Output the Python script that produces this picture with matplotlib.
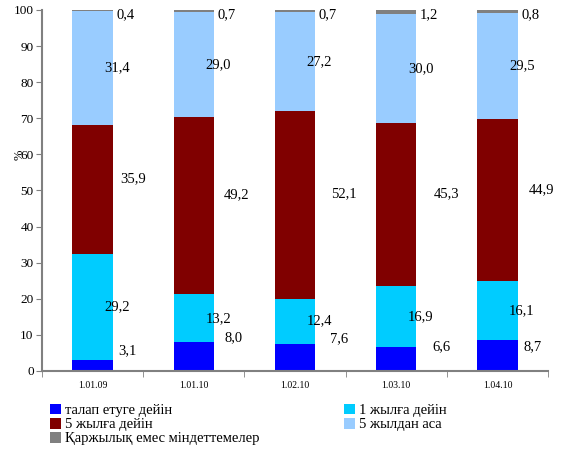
import numpy as np
import matplotlib
matplotlib.use("Agg")
import matplotlib.pyplot as plt
from matplotlib.patches import Patch

plt.rcParams['font.family'] = ['Liberation Serif', 'DejaVu Serif']

dates = ["1.01.09", "1.01.10", "1.02.10", "1.03.10", "1.04.10"]
series_names = ["талап етуге дейін", "1 жылға дейін", "5 жылға дейін",
                "5 жылдан аса", "Қаржылық емес міндеттемелер"]
on_demand = [3.1, 8.0, 7.6, 6.6, 8.7]
up_to_1y = [29.2, 13.2, 12.4, 16.9, 16.1]
up_to_5y = [35.9, 49.2, 52.1, 45.3, 44.9]
over_5y = [31.4, 29.0, 27.2, 30.0, 29.5]
non_fin = [0.4, 0.7, 0.7, 1.2, 0.8]

colors = ["#0000FF", "#00CCFF", "#800000", "#99CCFF", "#808080"]

# label placement tweaks (x offset from bar centre, y offset from segment middle)
blue_dx = [0.25, 0.30, 0.35, 0.36, 0.26]
blue_dy = [4.0, 5.1, 5.1, 3.4, 2.3]
maroon_dx = [0.27, 0.30, 0.36, 0.37, 0.31]

fig = plt.figure(figsize=(5.65, 4.5), dpi=100)
ax = fig.add_axes([0.0743, 0.1756, 0.8957, 0.8024])

x = np.arange(len(dates))
data = [on_demand, up_to_1y, up_to_5y, over_5y, non_fin]
bottom = np.zeros(len(dates))
for vals, c in zip(data, colors):
    ax.bar(x, vals, width=0.4, bottom=bottom, color=c, linewidth=0)
    bottom += np.array(vals)

fs = 10.5
def fmt(v):
    return f"{v:.1f}".replace(".", ",")

base = np.zeros(len(dates))
for k, vals in enumerate(data):
    for i, v in enumerate(vals):
        mid = base[i] + v / 2
        if k == 0:
            ax.text(i + blue_dx[i], mid + blue_dy[i], fmt(v), ha='left', va='center', fontsize=fs)
        elif k == 1 or k == 3:
            ax.text(i + 0.24, mid, fmt(v), ha='center', va='center', fontsize=fs)
        elif k == 2:
            ax.text(i + maroon_dx[i], mid + 3, fmt(v), ha='left', va='center', fontsize=fs)
        else:
            ax.text(i + 0.235, 98.8, fmt(v), ha='left', va='center', fontsize=fs)
    base += np.array(vals)

ax.set_xlim(-0.5, len(dates) - 0.5)
ax.set_ylim(0, 100)
ax.set_yticks(range(0, 101, 10))
ax.set_xticks(x)
ax.set_xticklabels(dates, fontsize=7)
ax.set_xticks(np.arange(-0.5, len(dates), 1), minor=True)
ax.tick_params(axis='x', which='major', length=0, pad=7)
ax.tick_params(axis='x', which='minor', length=4, color='#808080', direction='out')
ax.tick_params(axis='y', length=4, color='#808080', labelsize=9.5, pad=2)

for s in ['top', 'right']:
    ax.spines[s].set_visible(False)
for s in ['left', 'bottom']:
    ax.spines[s].set_color('#808080')
    ax.spines[s].set_linewidth(1.5)

ax.text(-0.045, 0.6, "%", transform=ax.transAxes, rotation=90,
        ha='center', va='center', fontsize=9)

order = [0, 2, 4, 1, 3]
handles = [Patch(facecolor=colors[j], edgecolor='none') for j in order]
labels = [series_names[j] for j in order]
fig.legend(handles, labels, ncol=2, loc='upper left', bbox_to_anchor=(0.089, 0.102),
           frameon=False, fontsize=10.5, handlelength=0.72, handleheight=0.72,
           handletextpad=0.3, columnspacing=5.8, labelspacing=0.05, borderaxespad=0,
           borderpad=0)

fig.savefig("out.png", dpi=100)
